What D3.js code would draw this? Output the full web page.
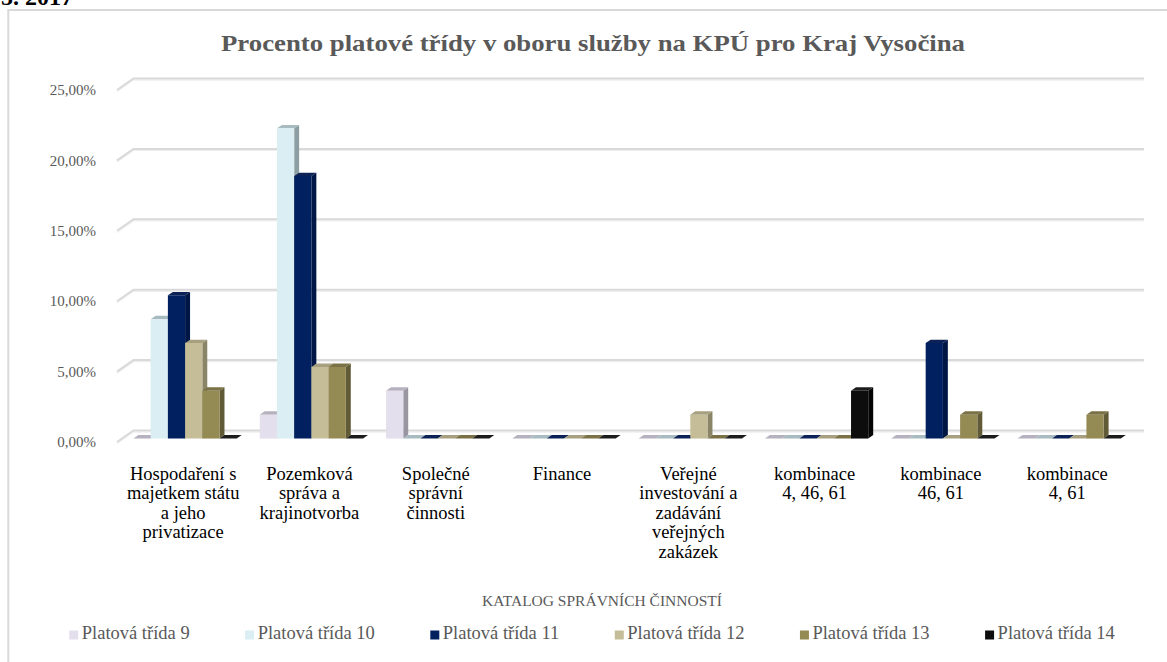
<!DOCTYPE html>
<html><head><meta charset="utf-8">
<script src="https://cdn.jsdelivr.net/npm/d3@7"></script>
<style>html,body{margin:0;padding:0;background:#fff;overflow:hidden}</style>
</head><body>
<svg id="chart" width="1167" height="662"></svg>
<script>
// Categories of administrative activities (x axis)
const categories = [
  "Hospodaření s majetkem státu a jeho privatizace",
  "Pozemková správa a krajinotvorba",
  "Společné správní činnosti",
  "Finance",
  "Veřejné investování a zadávání veřejných zakázek",
  "kombinace\n4, 46, 61",
  "kombinace\n46, 61",
  "kombinace\n4, 61"
];
const seriesNames = ["Platová třída 9", "Platová třída 10", "Platová třída 11",
                     "Platová třída 12", "Platová třída 13", "Platová třída 14"];

// Share of employees per salary class in each category
const pt9  = [0.0000, 0.0169, 0.0339, 0, 0,      0,      0,      0];
const pt10 = [0.0847, 0.2203, 0,      0, 0,      0,      0,      0];
const pt11 = [0.1017, 0.1864, 0,      0, 0,      0,      0.0678, 0];
const pt12 = [0.0678, 0.0508, 0,      0, 0.0169, 0,      0,      0];
const pt13 = [0.0339, 0.0508, 0,      0, 0,      0,      0.0169, 0.0169];
const pt14 = [0.0000, 0,      0,      0, 0,      0.0339, 0,      0];
const seriesValues = [pt9, pt10, pt11, pt12, pt13, pt14];

const yTicks = [0, 0.05, 0.10, 0.15, 0.20, 0.25];

const frontColors = ["#e4dfec", "#daeef3", "#002060", "#c4bd97", "#948a54", "#0d0d0d"];
const topColors   = ["#b6b1be", "#a8bbc1", "#0c2256", "#a6a081", "#7a7246", "#1c1c1c"];
const sideColors  = ["#9995a1", "#8d9ea3", "#001645", "#8a8567", "#615a37", "#050505"];

const serif = "'Liberation Serif','Times New Roman',serif";
const svg = d3.select("#chart");

// Chart frame
svg.append("rect").attr("x", 8.3).attr("y", 10).attr("width", 1300).attr("height", 800)
  .attr("fill", "#fff").attr("stroke", "#d9d9d9").attr("stroke-width", 2);

// Caption fragment above the frame
svg.append("text").attr("x", 1).attr("y", 5)
  .attr("font-family", serif).attr("font-weight", "bold").attr("font-size", 24)
  .attr("fill", "#000").text("5. 2017");

// Title
svg.append("text").attr("x", 593).attr("y", 51).attr("text-anchor", "middle")
  .attr("font-family", serif).attr("font-weight", "bold").attr("font-size", 23)
  .attr("fill", "#595959")
  .attr("textLength", 744).attr("lengthAdjust", "spacingAndGlyphs")
  .text("Procento platové třídy v oboru služby na KPÚ pro Kraj Vysočina");

// 3D box geometry: front plane scales plus an oblique depth offset
const plot = { left: 117, right: 1127.4, depthX: 16.5, depthY: 11.5 };
const x0 = d3.scaleBand().domain(d3.range(categories.length)).range([plot.left, plot.right]);
const x1 = d3.scaleBand().domain(d3.range(seriesNames.length))
  .range([11.5, x0.bandwidth() - 11.5]);
const y = d3.scaleLinear().domain([0, 0.25]).range([442, 90]);
const shift = t => [t * plot.depthX, -t * plot.depthY];

const fmt = d3.formatLocale({ decimal: ",", thousands: " ", grouping: [3], currency: ["", ""] })
  .format(".2%");

// Side wall ticks and back wall gridlines
const grid = svg.append("g");
yTicks.forEach(v => {
  const yf = y(v), [bx, by] = shift(1);
  const pts = [[plot.left, yf], [plot.left + bx, yf + by], [plot.right + bx, yf + by]];
  grid.append("path").attr("d", d3.line()(pts.map(p => [p[0], p[1] + 1.6])))
    .attr("fill", "none").attr("stroke", "#efefef").attr("stroke-width", 1.2);
  grid.append("path").attr("d", d3.line()(pts))
    .attr("fill", "none").attr("stroke", "#d9d9d9").attr("stroke-width", 2);
});

// Y tick labels
svg.append("g").selectAll("text").data(yTicks).join("text")
  .attr("x", 96).attr("y", d => y(d)).attr("dy", "0.35em")
  .attr("text-anchor", "end").attr("font-family", serif).attr("font-size", 15)
  .attr("fill", "#595959").text(d => fmt(d));

// Bars as oblique 3D prisms
const d0 = 0.3, d1 = 0.6;
const [ox, oy] = shift(d0);
const dx = (d1 - d0) * plot.depthX, dy = (d1 - d0) * plot.depthY;
const bw = x1.bandwidth();
const bars = svg.append("g");
categories.forEach((c, i) => {
  seriesNames.forEach((s, j) => {
    const v = seriesValues[j][i];
    const xl = x0(i) + x1(j) + ox, xr = xl + bw;
    const yb = y(0) + oy, yt = y(v) + oy;
    const g = bars.append("g");
    g.append("path").attr("fill", sideColors[j])
      .attr("d", d3.line()([[xr, yt], [xr + dx, yt - dy], [xr + dx, yb - dy], [xr, yb]]) + "Z");
    g.append("path").attr("fill", topColors[j])
      .attr("d", d3.line()([[xl, yt], [xr, yt], [xr + dx, yt - dy], [xl + dx, yt - dy]]) + "Z");
    g.append("path").attr("fill", frontColors[j])
      .attr("d", d3.line()([[xl, yt], [xr, yt], [xr, yb], [xl, yb]]) + "Z");
  });
});

// Category labels, wrapped to the band width
const measurer = svg.append("text").attr("font-family", serif).attr("font-size", 18.5)
  .attr("visibility", "hidden");
const measure = t => { measurer.text(t); return measurer.node().getComputedTextLength(); };
function wrapLines(text, maxW) {
  const out = [];
  text.split("\n").forEach(part => {
    let line = "";
    part.split(" ").forEach(w => {
      const t = line ? line + " " + w : w;
      if (line && measure(t) > maxW) { out.push(line); line = w; } else line = t;
    });
    out.push(line);
  });
  return out;
}
const catG = svg.append("g");
categories.forEach((c, i) => {
  const t = catG.append("text").attr("text-anchor", "middle")
    .attr("font-family", serif).attr("font-size", 18.5).attr("fill", "#000");
  const cx = x0(i) + x0.bandwidth() / 2 + 3;
  wrapLines(c, 116).forEach((ln, k) => {
    t.append("tspan").attr("x", cx).attr("y", 479.5 + k * 19.6).text(ln);
  });
});
measurer.remove();

// Axis title
svg.append("text").attr("x", 602).attr("y", 606).attr("text-anchor", "middle")
  .attr("font-family", serif).attr("font-size", 15.5).attr("fill", "#595959")
  .text("KATALOG SPRÁVNÍCH ČINNOSTÍ");

// Legend
const leg = svg.append("g");
const items = seriesNames.map((name, j) => {
  const g = leg.append("g");
  g.append("rect").attr("x", 0).attr("y", 630.5).attr("width", 9).attr("height", 9)
    .attr("fill", frontColors[j]);
  const t = g.append("text").attr("x", 12.5).attr("y", 638.5)
    .attr("font-family", serif).attr("font-size", 18.5).attr("fill", "#595959").text(name);
  return { g, w: 12.5 + t.node().getComputedTextLength() };
});
const gap = 55.5;
const total = d3.sum(items, d => d.w) + gap * (items.length - 1);
let lx = 592 - total / 2;
items.forEach(it => { it.g.attr("transform", `translate(${lx},0)`); lx += it.w + gap; });
</script>
</body></html>
